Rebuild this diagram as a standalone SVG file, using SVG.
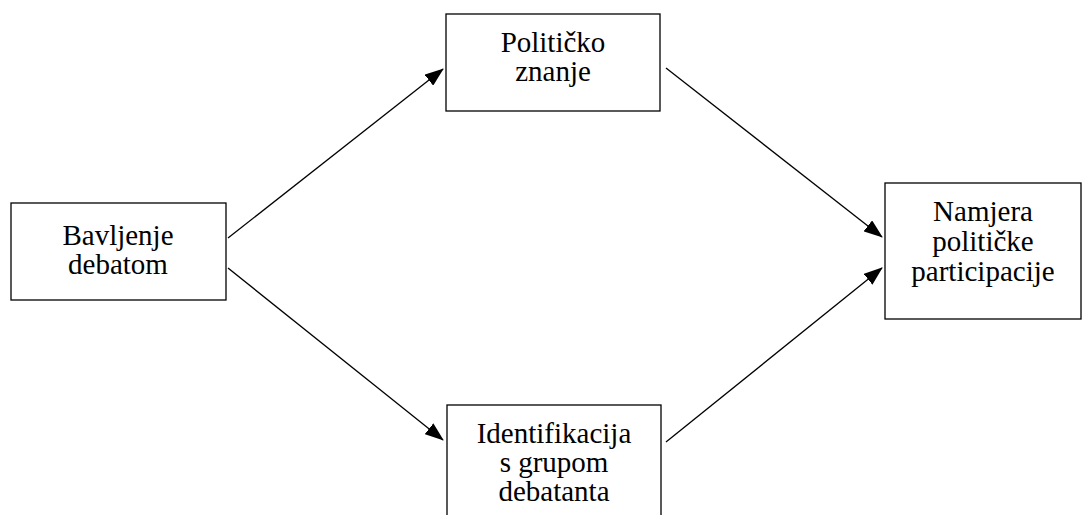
<svg xmlns="http://www.w3.org/2000/svg" width="1088" height="515" viewBox="0 0 1088 515">
<style>
.box{fill:#fff;stroke:#000;stroke-width:1.3}
.t{font-family:"Liberation Serif","Times New Roman",serif;font-size:29px;fill:#000;text-anchor:middle}
.c{stroke:#000;stroke-width:1.3;fill:none}
</style>
<defs>
<marker id="ah" markerWidth="19" markerHeight="14" refX="18" refY="7" orient="auto" markerUnits="userSpaceOnUse">
<path d="M0,0 L19,7 L0,14 Z" fill="#000"/>
</marker>
</defs>
<rect width="1088" height="515" fill="#fff"/>
<g id="connectors">
<line class="c" x1="228" y1="238" x2="443" y2="69" marker-end="url(#ah)"/>
<line class="c" x1="228" y1="268" x2="443" y2="440" marker-end="url(#ah)"/>
<line class="c" x1="666" y1="68" x2="882" y2="237" marker-end="url(#ah)"/>
<line class="c" x1="666" y1="442" x2="882" y2="268" marker-end="url(#ah)"/>
</g>
<g id="n1">
<rect class="box" x="11" y="203" width="215" height="97"/>
<text class="t" x="118" y="245">Bavljenje</text>
<text class="t" x="118" y="274">debatom</text>
</g>
<g id="n2">
<rect class="box" x="446" y="14" width="214" height="97"/>
<text class="t" x="553" y="52">Političko</text>
<text class="t" x="553" y="81">znanje</text>
</g>
<g id="n3">
<rect class="box" x="885" y="183" width="196" height="136"/>
<text class="t" x="983" y="221">Namjera</text>
<text class="t" x="983" y="251">političke</text>
<text class="t" x="983" y="281">participacije</text>
</g>
<g id="n4">
<rect class="box" x="447" y="405" width="214" height="120"/>
<text class="t" x="554" y="443">Identifikacija</text>
<text class="t" x="554" y="472">s grupom</text>
<text class="t" x="554" y="501">debatanta</text>
</g>
</svg>
